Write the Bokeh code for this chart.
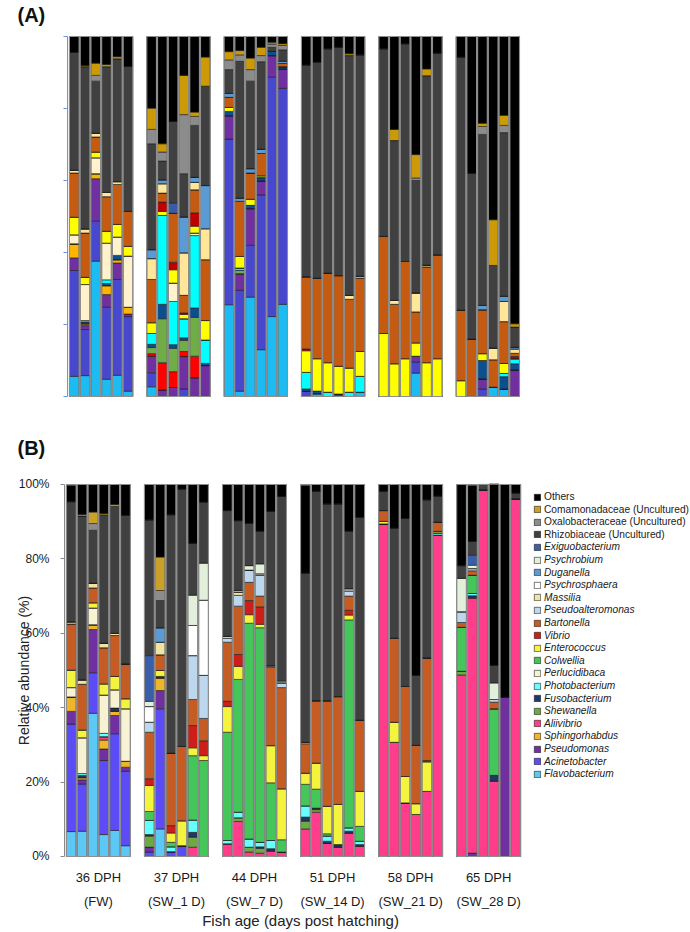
from math import pi

from bokeh.embed import file_html
from bokeh.layouts import column
from bokeh.models import (ColumnDataSource, FixedTicker, Label, Legend,
                          LegendItem, Range1d)
from bokeh.plotting import figure
from bokeh.resources import INLINE

# ---------------------------------------------------------------------------
# Taxa, listed from the bottom of each stacked bar to the top
# ---------------------------------------------------------------------------
taxa = ["Flavobacterium", "Acinetobacter", "Pseudomonas", "Sphingorhabdus",
        "Aliivibrio", "Shewanella", "Fusobacterium", "Photobacterium",
        "Perlucidibaca", "Colwellia", "Enterococcus", "Vibrio", "Bartonella",
        "Pseudoalteromonas", "Massilia", "Psychrosphaera", "Duganella",
        "Psychrobium", "Exiguobacterium", "Rhizobiaceae (Uncultured)",
        "Oxalobacteraceae (Uncultured)", "Comamonadaceae (Uncultured)", "Others"]
families = ["Rhizobiaceae (Uncultured)", "Oxalobacteraceae (Uncultured)",
            "Comamonadaceae (Uncultured)", "Others"]

group_days = ["36 DPH", "37 DPH", "44 DPH", "51 DPH", "58 DPH", "65 DPH"]
group_water = ["(FW)", "(SW_1 D)", "(SW_7 D)", "(SW_14 D)", "(SW_21 D)", "(SW_28 D)"]
y_ticks = [0, 20, 40, 60, 80, 100]
y_tick_text = ["0%", "20%", "40%", "60%", "80%", "100%"]

colors_a = ["#1cbcf2", "#4848cf", "#7030a0", "#ffb400", "#ff0000", "#70ad47",
            "#0b4f8f", "#00ffff", "#fff2cc", "#44c55a", "#ffff00", "#c00000",
            "#c55a11", "#bdd7ee", "#ffe699", "#ffffff", "#5b9bd5", "#e2efda",
            "#3a5ca6", "#404040", "#8c8c8c", "#cc9a06", "#000000"]
colors_b = ["#5cc8f6", "#5b4cf5", "#7030a0", "#efb52c", "#ff3d8b", "#6daa45",
            "#203864", "#66ffff", "#f6f2d2", "#45c65b", "#f4f43e", "#cc1f1a",
            "#c55c24", "#bdd7ee", "#f3e3a0", "#ffffff", "#5b9bd5", "#e2efda",
            "#3a5fa8", "#404040", "#8c8c8c", "#c9a128", "#000000"]

# ---------------------------------------------------------------------------
# Panel (A): relative abundance (%), 6 fish per age group
# ---------------------------------------------------------------------------
a_flavo = [5.6, 5.8, 37.6, 4.8, 5.9, 1.5, 2.7, 0, 0, 0, 0, 0,
           25.5, 1.5, 27.6, 13.0, 22.2, 25.6, 0, 0.8, 0, 0, 0, 1.2,
           0, 0, 0, 6.5, 0, 0, 0, 0, 0, 2.6, 2.1, 0]
a_acineto = [29.4, 12.8, 11.1, 20.0, 26.6, 20.7, 3.9, 0, 0, 2.1, 0, 0,
             46.0, 28.0, 14.4, 43.0, 66.5, 60.0, 1.5, 0, 0, 0, 0, 0,
             0, 0, 0, 3.1, 0, 0, 0, 0, 2.1, 0, 0, 0]
a_pseudo = [3.5, 1.1, 11.8, 3.5, 4.6, 0.7, 4.6, 1.8, 2.5, 9.0, 5.2, 8.6,
            6.5, 4.6, 10.2, 3.9, 6.0, 5.4, 0, 0, 0, 0, 0, 0,
            0, 0, 0, 1.6, 0, 0, 0, 0, 2.8, 0, 0, 7.4]
a_sphingo = [3.9, 0.5, 1.4, 2.5, 0.9, 1.9, 0, 0, 0, 0, 0, 0,
             0, 0, 0, 0, 0, 0, 0, 0, 0, 0, 0, 0,
             0, 0, 0, 0, 0, 0, 0, 0, 0, 0, 0, 0]
a_aliiv = [0, 0, 0, 0, 0, 0, 0.7, 7.6, 4.4, 1.4, 6.0, 0,
           0, 0, 0, 0, 0, 0, 0, 0, 0, 0, 0, 0,
           0, 0, 0, 0, 0, 0, 0, 0, 0, 0, 0, 0]
a_shew = [0, 0, 0, 0, 0, 0, 1.7, 12.2, 6.5, 3.1, 10.8, 0,
          0, 0.9, 0, 0, 0, 0, 0, 0, 0, 0, 0, 0,
          0, 0, 0, 0, 0, 0, 0, 0, 0, 0, 0, 0]
a_fuso = [0, 0.5, 0, 0.6, 1.2, 0, 0.9, 4.0, 1.0, 0.7, 2.6, 0.6,
          1.2, 0, 0.9, 0.9, 1.2, 0.6, 0.6, 0.7, 0, 0.7, 0, 0,
          0, 0, 0, 0, 0, 0, 0, 0, 5.1, 0, 3.4, 1.7]
a_photob = [0, 0.4, 0, 1.0, 0, 0, 3.0, 24.7, 12.0, 5.3, 20.1, 6.5,
            0, 0.7, 0, 0, 0, 0, 4.6, 0, 1.2, 0, 1.2, 4.4,
            0, 0, 0, 0, 0, 0, 0, 0, 0, 0, 0.9, 1.4]
a_perluc = [2.5, 10.0, 4.4, 10.2, 5.1, 14.2, 0, 0, 5.1, 0, 0.7, 0,
            0, 0, 0, 0, 0, 0, 0, 0, 0, 0, 0, 0,
            0, 0, 0, 0, 0, 0, 0, 0, 0, 0, 0, 0]
a_colw = [0, 0, 0, 0, 0, 0, 0, 0, 0, 0, 0, 0,
          0, 0, 0, 0, 0, 0, 0, 0, 0, 0, 0, 0,
          0, 0, 0, 0, 0, 0, 0, 0, 0, 0, 0, 0]
a_entero = [4.9, 2.0, 1.6, 3.3, 3.5, 2.7, 3.0, 1.1, 3.7, 1.2, 1.9, 5.4,
            1.1, 3.2, 1.7, 0.5, 0, 0, 6.0, 9.0, 8.2, 7.7, 6.7, 6.9,
            17.5, 9.1, 10.5, 3.7, 9.4, 10.5, 4.4, 0, 1.9, 0, 2.8, 0]
a_vibrio = [0, 0, 0, 0, 0, 0, 0, 2.6, 2.1, 0.4, 3.7, 0,
            0, 0, 0, 0, 0, 0, 0.5, 0, 0, 0, 0, 0,
            0, 0, 0, 0, 0, 0, 0, 0, 0, 0, 0, 0.6]
a_bart = [12.3, 12.3, 4.2, 9.6, 11.1, 9.7, 12.0, 2.5, 13.6, 4.9, 6.4, 16.9,
          2.8, 15.3, 7.3, 6.2, 0, 0.9, 20.1, 22.4, 24.9, 25.2, 19.1, 20.4,
          27.0, 16.5, 27.0, 8.6, 26.6, 28.9, 19.6, 16.0, 12.2, 7.6, 11.6, 0.9]
a_pseudoalt = [0, 0, 0, 0, 0, 0, 0, 0, 0, 0, 0, 0,
               0, 0, 0, 0, 0, 0, 0, 0, 0, 0, 0, 0,
               0, 0, 0, 0, 0, 0, 0, 0, 0, 0, 0, 0]
a_massilia = [0.8, 1.2, 1.1, 1.2, 0.8, 0, 5.8, 2.6, 0, 11.8, 2.1, 8.6,
              0, 0, 0, 0, 0, 0, 0, 0, 0, 0, 1.1, 0.5,
              0, 1.1, 0, 5.3, 0.5, 0, 0, 0, 0, 3.3, 5.6, 1.2]
a_psychrosph = [0, 0, 0, 0, 0, 0, 0, 0, 0, 0, 0, 0,
                0, 0, 0, 0, 0, 0, 0, 0, 0, 0, 0, 0,
                0, 0, 0, 0, 0, 0, 0, 0, 0, 0, 0, 0]
a_dugan = [0, 0, 0, 0, 0, 0, 2.5, 1.1, 0, 10.0, 1.4, 12.0,
           1.1, 0.9, 1.2, 1.2, 0, 0.7, 0, 0, 0, 0, 0, 0,
           0, 0, 0, 0, 0, 0, 0, 0, 1.2, 0, 1.5, 0.5]
a_psychrobium = [0, 0, 0, 0, 0, 0, 0, 0, 0, 0, 0, 0,
                 0, 0, 0, 0, 0, 0, 0, 0, 0, 0, 0, 0,
                 0, 0, 0, 0, 0, 0, 0, 0, 0, 0, 0, 0]
a_exiguo = [0, 0, 0, 0, 0, 0, 0, 0, 2.8, 0, 0, 0,
            0, 0, 0, 0, 0, 0, 0, 0, 0, 0, 0, 0,
            0, 0, 0, 0, 0, 0, 0, 0, 0, 0, 0, 0]
a_rhizo = [32.7, 45.0, 14.4, 34.9, 34.1, 40.3, 29.4, 5.2, 22.7, 12.0, 14.4, 27.6,
           6.6, 38.0, 24.3, 24.3, 1.1, 3.1, 58.8, 60.0, 62.3, 63.4, 66.6, 61.5,
           52.1, 44.4, 60.5, 31.2, 52.6, 56.0, 70.3, 46.0, 47.5, 22.9, 45.4, 5.6]
a_oxalo = [0, 0, 1.6, 0, 0, 0, 4.0, 2.5, 0, 16.4, 2.5, 0,
           2.7, 1.8, 3.2, 1.7, 0.9, 1.2, 0, 0, 0, 0, 0, 0,
           0, 0, 0, 0.7, 0, 0, 0, 0, 2.2, 0, 2.0, 0]
a_comam = [0, 0.3, 3.4, 0.6, 0.6, 0, 5.9, 2.3, 0, 10.9, 1.2, 8.1,
           2.3, 1.2, 3.2, 2.3, 0.5, 0.5, 0, 0, 0, 0, 0.5, 0,
           0, 3.1, 0, 6.5, 1.9, 0, 0, 0, 0.9, 12.7, 2.8, 0.9]
a_others = [4.4, 8.1, 7.4, 7.8, 5.6, 8.3, 19.9, 29.8, 23.6, 10.8, 21.0, 5.7,
            4.2, 3.9, 6.0, 3.0, 1.6, 2.0, 7.9, 7.1, 3.4, 3.0, 4.8, 5.1,
            3.4, 25.8, 2.0, 32.8, 9.0, 4.6, 5.7, 38.0, 24.1, 50.9, 21.9, 79.8]

# ---------------------------------------------------------------------------
# Panel (B): relative abundance (%), 6 fish per age group
# ---------------------------------------------------------------------------
b_flavo = [6.7, 6.8, 38.5, 5.9, 7.0, 2.9, 0, 7.4, 0, 0, 0, 0,
           0, 0, 0, 0, 0, 0, 0, 0, 0, 0, 0, 0,
           0, 0, 0, 0, 0, 0, 0, 0, 0, 0, 0, 0]
b_acineto = [28.9, 12.7, 10.9, 19.9, 26.0, 20.0, 1.2, 32.3, 1.3, 2.9, 0, 0,
             0, 0, 0, 0, 0, 0, 0, 0, 0, 0, 0, 0,
             0, 0, 0, 0, 0, 0, 0, 0, 0, 0, 0, 0]
b_pseudo = [3.4, 1.1, 11.6, 3.1, 4.9, 1.1, 1.3, 4.9, 0, 0, 0, 0,
            0, 0, 0, 0, 0, 0, 0, 0, 0, 0, 0, 0,
            0, 0, 0, 0, 0, 0, 0, 0.9, 0, 0, 42.8, 0]
b_sphingo = [3.9, 0.6, 1.3, 2.4, 1.2, 1.6, 0, 3.4, 0, 0, 0, 0,
             0, 0, 0, 0, 0, 0, 0, 0, 0, 0, 0, 0,
             0, 0, 0, 0, 0, 0, 0, 0, 0, 0, 0, 0]
b_aliiv = [0, 0, 0, 0.9, 0, 0, 0, 0, 0, 0, 2.5, 0,
           3.4, 9.4, 1.2, 0.9, 1.5, 1.2, 7.4, 11.9, 3.5, 2.5, 6.3, 2.8,
           89.4, 30.7, 14.4, 11.3, 17.5, 86.4, 48.8, 68.6, 98.6, 20.3, 0, 96.2]
b_shew = [0, 0, 0, 0, 0, 0, 3.0, 0, 0, 0, 2.7, 0,
          0, 1.0, 1.3, 1.3, 0, 0, 2.1, 0.7, 0, 0, 0, 0,
          0, 0, 0, 0, 0, 0, 1.0, 0, 0, 0, 0, 0]
b_fuso = [0, 0.6, 0, 0, 0.8, 0, 0.4, 0.4, 0, 0, 1.3, 0,
          0, 0, 0, 0.4, 0.6, 0, 1.1, 0.4, 0.6, 0.7, 0.5, 0.4,
          0, 0, 0, 0, 0, 0, 0, 0.6, 0, 1.5, 0, 0]
b_photob = [0, 0.5, 0, 0.9, 0, 0, 3.8, 0, 1.3, 0, 3.3, 0,
            0.9, 1.5, 2.2, 1.2, 2.2, 0, 3.0, 0, 1.4, 0, 0.9, 0.9,
            0, 0, 0, 0, 0, 0.6, 0, 0.6, 0, 0, 0, 0]
b_perluc = [2.5, 9.6, 4.5, 10.3, 4.9, 14.1, 0, 0, 0, 0, 0, 0,
            0, 0, 0, 0, 0, 0, 0, 0, 0, 0, 0, 0,
            0, 0, 0, 0, 0, 0, 0, 0, 0, 0, 0, 0]
b_colw = [0, 0, 0, 0, 0, 0, 2.4, 0, 1.2, 0, 17.3, 25.8,
          29.1, 35.7, 58.0, 57.7, 15.5, 3.3, 5.8, 5.1, 0.6, 0, 55.9, 4.0,
          0, 0, 0, 0, 0, 0, 11.8, 4.9, 0, 17.9, 0, 0]
b_entero = [4.7, 2.1, 1.4, 3.0, 3.6, 2.7, 7.0, 1.6, 2.5, 6.7, 2.1, 1.3,
            6.9, 3.5, 2.3, 0.9, 10.0, 13.7, 3.0, 7.0, 7.4, 10.8, 1.3, 9.4,
            0.7, 5.4, 7.1, 2.9, 7.9, 0.4, 0, 0, 0, 0, 0, 0]
b_vibrio = [0, 0, 0, 0, 0, 0, 1.8, 0, 2.0, 0, 6.0, 4.0,
            1.4, 3.2, 3.8, 4.7, 0, 0, 0, 0, 0, 0, 1.3, 0,
            0, 0, 0, 0, 0.4, 0, 0, 0, 0, 0, 0, 0]
b_bart = [12.4, 12.3, 4.0, 9.7, 11.0, 9.4, 12.5, 4.2, 19.5, 20.0, 7.0, 6.0,
          15.9, 13.0, 4.9, 2.9, 21.1, 27.2, 7.9, 16.8, 28.4, 29.0, 3.8, 19.2,
          2.9, 22.6, 24.2, 15.7, 27.6, 2.5, 1.3, 1.2, 0, 1.8, 0, 0]
b_pseudoalt = [0, 0, 0, 0, 0, 0, 2.7, 0, 0, 0, 11.8, 11.6,
               1.1, 2.9, 3.3, 5.6, 0.4, 1.3, 0.4, 0, 0, 0, 1.4, 0,
               0, 0, 0, 0, 0, 0, 2.9, 0.6, 0, 0.7, 0, 0]
b_massilia = [0.6, 1.2, 1.3, 1.3, 0.6, 0, 0, 3.4, 0, 0, 0, 0,
              0, 0.9, 0, 0, 0, 0, 0, 0, 0, 0, 0, 0,
              0, 0, 0, 0, 0, 0, 0, 0, 0, 0, 0, 0]
b_psychrosph = [0, 0, 0, 0, 0, 0, 4.2, 0, 0, 0, 8.1, 20.2,
                0.5, 0, 0, 0.4, 0, 0, 0, 0, 0, 0, 0.6, 0,
                0, 0, 0, 0, 0, 0, 0, 0, 0, 0, 0, 0]
b_dugan = [0, 0, 0, 0, 0, 0, 0, 3.9, 0, 0, 0, 0,
           0, 0, 0, 0, 0, 0, 0, 0, 0, 0, 0, 0,
           0, 0, 0, 0, 0, 0, 0, 0, 0, 0, 0, 0]
b_psychrobium = [0, 0, 0, 0, 0, 0, 1.4, 0, 0, 0, 8.2, 10.0,
                 0, 0.4, 1.2, 2.7, 0, 0.5, 0, 0, 0, 0, 0, 0,
                 0, 0, 0, 0, 0, 0, 9.0, 0.9, 0, 4.5, 0, 0]
b_exiguo = [0, 0, 0, 0, 0, 0, 12.3, 0, 0, 0, 0, 0,
            0, 0, 0, 0, 0, 0, 0, 0, 0, 0, 0, 0,
            0, 0, 0, 0, 0, 0, 0, 2.7, 0, 0, 0, 0]
b_rhizo = [32.3, 44.0, 14.2, 34.3, 34.1, 39.9, 36.5, 7.3, 64.1, 69.2, 13.9, 16.4,
           33.8, 18.8, 11.4, 8.8, 41.5, 49.6, 45.5, 56.3, 52.9, 51.8, 15.5, 54.5,
           5.2, 29.6, 45.2, 18.8, 42.5, 7.0, 3.4, 3.7, 1.4, 4.7, 0, 1.5]
b_oxalo = [0, 0, 1.8, 0, 0, 0, 0, 2.7, 0, 0, 0, 0,
           0, 0, 0, 0, 0, 0, 0, 0, 0, 0, 0, 0,
           0, 0, 0, 0, 0, 0, 0, 0, 0, 0, 0, 0]
b_comam = [0, 0.4, 3.1, 0.4, 0.5, 0, 0, 9.0, 0, 0, 0, 0,
           0, 0, 0, 0, 0, 0, 0, 0, 0, 0, 0, 0,
           0, 0, 0, 0, 0, 0, 0, 0, 0, 0, 0, 0]
b_others = [4.5, 8.1, 7.4, 7.9, 5.4, 8.3, 9.5, 19.5, 8.1, 1.2, 15.8, 4.7,
            7.0, 9.7, 10.4, 12.5, 7.2, 3.2, 23.7, 1.8, 5.2, 5.2, 12.5, 8.8,
            1.8, 11.7, 9.1, 51.3, 4.1, 3.1, 21.8, 15.2, 0, 48.7, 57.2, 2.3]

panel_a = [a_flavo, a_acineto, a_pseudo, a_sphingo, a_aliiv, a_shew, a_fuso,
           a_photob, a_perluc, a_colw, a_entero, a_vibrio, a_bart, a_pseudoalt,
           a_massilia, a_psychrosph, a_dugan, a_psychrobium, a_exiguo, a_rhizo,
           a_oxalo, a_comam, a_others]
panel_b = [b_flavo, b_acineto, b_pseudo, b_sphingo, b_aliiv, b_shew, b_fuso,
           b_photob, b_perluc, b_colw, b_entero, b_vibrio, b_bart, b_pseudoalt,
           b_massilia, b_psychrosph, b_dugan, b_psychrobium, b_exiguo, b_rhizo,
           b_oxalo, b_comam, b_others]

# ---------------------------------------------------------------------------
# Bar placement: 6 groups of 6 bars, with a wider gap between groups
# ---------------------------------------------------------------------------
n_groups, per_group, group_step = 6, 6, 7.2
bar_x = [g * group_step + i for g in range(n_groups) for i in range(per_group)]
group_mid = [g * group_step + (per_group - 1) / 2 for g in range(n_groups)]
bar_width = 0.9
FONT = "Liberation Sans"


def make_fig(height, x_range, y_range, axis_x):
    # the plot frame fills the whole canvas; the y axis is pinned just left of the bars
    p = figure(width=690, height=height, output_backend="svg", toolbar_location=None,
               x_range=x_range, y_range=y_range,
               min_border_left=0, min_border_right=0,
               min_border_top=0, min_border_bottom=0)
    p.xaxis.visible = False
    p.xgrid.visible = False
    p.ygrid.visible = False
    p.outline_line_color = None
    ax = p.yaxis[0]
    ax.fixed_location = axis_x
    ax.bounds = (0, 100)
    ax.ticker = FixedTicker(ticks=y_ticks)
    ax.minor_tick_line_color = None
    ax.major_tick_in = 0
    ax.major_tick_out = 4
    return p, ax


def draw_bars(p, values, colors):
    src = ColumnDataSource(dict(x=bar_x, **{t: v for t, v in zip(taxa, values)}))
    rends = p.vbar_stack(taxa, x="x", width=bar_width, source=src,
                         fill_color=colors, line_color="#1c1c1c", line_width=0.6)
    totals = [sum(col[j] for col in values) for j in range(len(bar_x))]
    p.vbar(x=bar_x, top=totals, bottom=0, width=bar_width, fill_color=None,
           line_color="#8e8e8e", line_width=1.1)
    return dict(zip(taxa, rends))


def add_text(p, text, x, y, x_units="screen", y_units="screen", **kw):
    p.add_layout(Label(x=x, y=y, x_units=x_units, y_units=y_units, text=text,
                       text_font=FONT, **kw))


# ---- panel (A) ----
pa, ax_a = make_fig(420, Range1d(-6.87, 57.37), Range1d(-6.667, 110.0), -0.633)
draw_bars(pa, panel_a, colors_a)
ax_a.major_label_overrides = {t: "" for t in y_ticks}
ax_a.axis_line_color = "#6f95dc"
ax_a.major_tick_line_color = "#6f95dc"
add_text(pa, "(A)", 17, 417, text_font_size="20px", text_font_style="bold",
         text_baseline="top", text_color="#111111")

# ---- panel (B) ----
pb, ax_b = make_fig(512, Range1d(-6.53, 57.12), Range1d(-20.43, 117.2), -0.627)
rend_b = draw_bars(pb, panel_b, colors_b)
ax_b.major_label_overrides = dict(zip(y_ticks, y_tick_text))
ax_b.major_label_text_font = FONT
ax_b.major_label_text_font_size = "12px"
ax_b.major_label_text_color = "#1a1a1a"
ax_b.major_label_standoff = 11
ax_b.axis_line_color = "#8a8a8a"
ax_b.major_tick_line_color = "#8a8a8a"

add_text(pb, "(B)", 17, 496, text_font_size="20px", text_font_style="bold",
         text_baseline="top", text_color="#111111")
add_text(pb, "Relative abundance (%)", 23, 262, angle=pi / 2,
         text_font_size="14px", text_align="center", text_baseline="middle",
         text_color="#222222")
for xm, day, water in zip(group_mid, group_days, group_water):
    add_text(pb, day, xm, 55, x_units="data", text_font_size="13px",
             text_align="center", text_baseline="middle", text_color="#1a1a1a")
    add_text(pb, water, xm, 31, x_units="data", text_font_size="13px",
             text_align="center", text_baseline="middle", text_color="#1a1a1a")
add_text(pb, "Fish age (days post hatching)", 21.15, 12, x_units="data",
         text_font_size="15px", text_align="center", text_baseline="middle",
         text_color="#222222")

# legend, one row per taxon from the top of the stack down; family-level
# entries upright, genera in italics
legend_style = dict(label_text_font=FONT, label_text_font_size="10.2px",
                    label_text_color="#1a1a1a", glyph_width=8, glyph_height=8,
                    label_standoff=3, label_height=12, spacing=0, padding=0,
                    margin=0, border_line_color=None, background_fill_alpha=0)
row_pitch, first_row_mid, legend_left = 12.6, 435.5, 533
for k, t in enumerate(reversed(taxa)):
    row_bottom = first_row_mid - k * row_pitch - 6.0
    style = "normal" if t in families else "italic"
    pb.add_layout(Legend(items=[LegendItem(label=t, renderers=[rend_b[t]])],
                         location=(legend_left, row_bottom),
                         label_text_font_style=style, **legend_style))

layout = column(pa, pb, spacing=0)
open("out.html", "w").write(file_html(layout, INLINE))
